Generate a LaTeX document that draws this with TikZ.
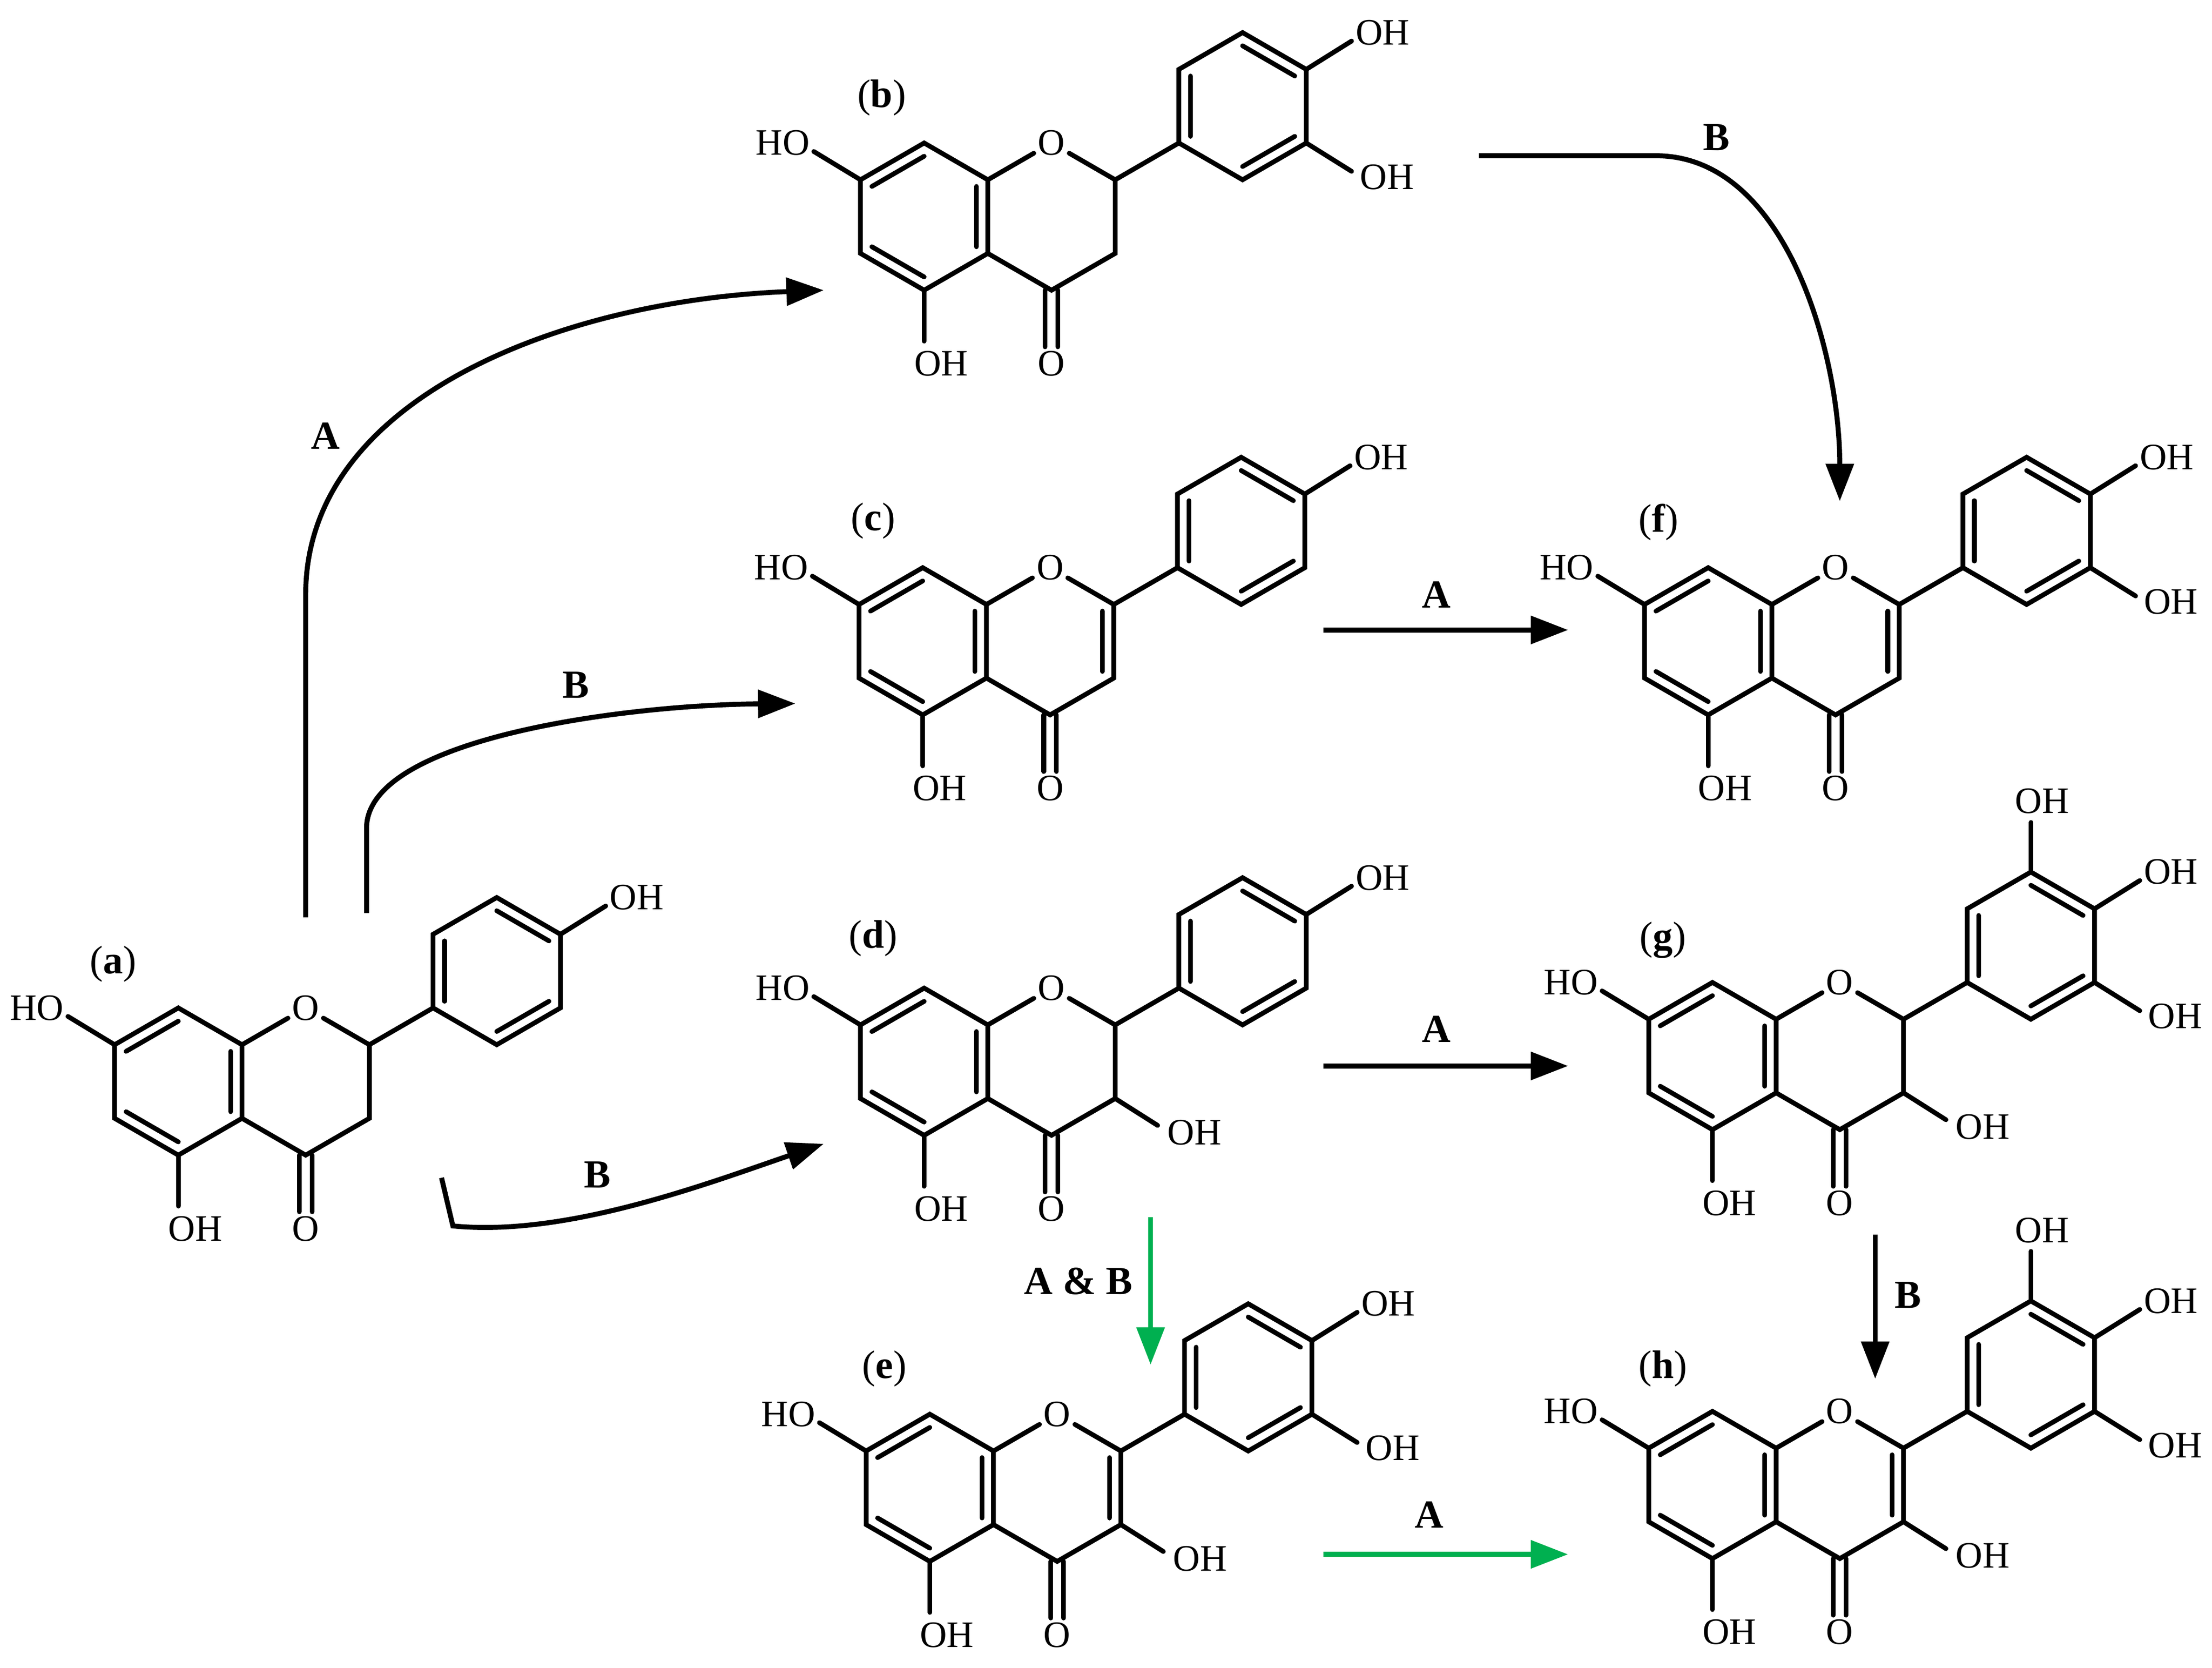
\documentclass[tikz,border=0pt]{standalone}
\usepackage{fontspec}
\setmainfont{Liberation Serif}
\usetikzlibrary{calc,arrows.meta}
\definecolor{arrgreen}{RGB}{0,176,80}
\tikzset{
 bond/.style={line width=1.9pt, line cap=round},
 atom/.style={inner sep=1.5pt, font=\fontsize{15}{15}\selectfont},
 lbl/.style={font=\fontsize{16}{16}\selectfont},
 rlbl/.style={font=\fontsize{16}{16}\selectfont\bfseries},
 rxn/.style={line width=2pt, -{Triangle[length=15pt,width=11pt]}},
}
\newcommand\inb[3]{\draw[bond] ($(#1)!0.18!(#3)$) -- ($(#2)!0.18!(#3)$);}
\newcommand\core[3]{%
\begin{scope}[shift={(#2,#3)}]
\coordinate (#1ca) at (0,0);
\coordinate (#1cc) at (90,0);
\coordinate (#1cb) at (225,-78);
\coordinate (#1a1) at (0,-52);
\coordinate (#1a2) at (45,-26);
\coordinate (#1a3) at (45,26);
\coordinate (#1a4) at (0,52);
\coordinate (#1a5) at (-45,26);
\coordinate (#1a6) at (-45,-26);
\coordinate (#1c2) at (135,-26);
\coordinate (#1c3) at (135,26);
\coordinate (#1c4) at (90,52);
\coordinate (#1b1) at (180,-52);
\coordinate (#1b2) at (180,-104);
\coordinate (#1b3) at (225,-130);
\coordinate (#1b4) at (270,-104);
\coordinate (#1b5) at (270,-52);
\coordinate (#1b6) at (225,-26);
\coordinate (#1e7) at (-78,-46);
\coordinate (#1e5) at (0,88);
\coordinate (#1e4p) at (302,-124);
\coordinate (#1e3p) at (302,-32);
\coordinate (#1e5p) at (225,-165);
\coordinate (#1e3c) at (165,45);
\coordinate (#1dA1) at (85.5,52);
\coordinate (#1dA2) at (85.5,92);
\coordinate (#1dB1) at (94.5,52);
\coordinate (#1dB2) at (94.5,92);
\node[atom] (#1O) at (90,-52) {O};
\node[atom] (#1HO7) at (-100,-52) {HO};
\node[atom] (#1OH5) at (12,104) {OH};
\node[atom] (#1O4) at (90,104) {O};
\end{scope}
\draw[bond] (#1a1)--(#1a2)--(#1a3)--(#1a4)--(#1a5)--(#1a6)--cycle;
\draw[bond] (#1a2)--(#1O)--(#1c2)--(#1c3)--(#1c4)--(#1a3);
\draw[bond] (#1c2)--(#1b1);
\draw[bond] (#1b1)--(#1b2)--(#1b3)--(#1b4)--(#1b5)--(#1b6)--cycle;
\inb{#1a6}{#1a1}{#1ca}\inb{#1a5}{#1a4}{#1ca}\inb{#1a2}{#1a3}{#1ca}
\inb{#1b1}{#1b2}{#1cb}\inb{#1b3}{#1b4}{#1cb}\inb{#1b5}{#1b6}{#1cb}
\draw[bond] (#1a6)--(#1e7);
\draw[bond] (#1a4)--(#1e5);
\draw[bond] (#1dA1)--(#1dA2);
\draw[bond] (#1dB1)--(#1dB2);
}
\newcommand\OHfour[1]{\node[atom] (#1OH4p) at ($(#1ca)+(324,-130)$) {OH};\draw[bond] (#1b4)--(#1e4p);}
\newcommand\OHthree[1]{\node[atom] (#1OH3p) at ($(#1ca)+(327,-28)$) {OH};\draw[bond] (#1b5)--(#1e3p);}
\newcommand\OHtop[1]{\node[atom] (#1OH5p) at ($(#1ca)+(233,-180)$) {OH};\draw[bond] (#1b3)--(#1e5p);}
\newcommand\OHc[1]{\node[atom] (#1OH3) at ($(#1ca)+(191,50)$) {OH};\draw[bond] (#1c3)--(#1e3c);}
\newcommand\ene[1]{\inb{#1c2}{#1c3}{#1cc}}
\begin{document}
\begin{tikzpicture}[x=0.02cm,y=-0.02cm]
\useasboundingbox (0,0) rectangle (1563,1178);
% molecules
\core{a}{126}{764}\OHfour{a}
\core{b}{653}{153}\OHfour{b}\OHthree{b}
\core{c}{652}{453}\OHfour{c}\ene{c}
\core{d}{653}{750}\OHfour{d}\OHc{d}
\core{e}{657}{1051}\OHfour{e}\OHthree{e}\ene{e}\OHc{e}
\core{f}{1207}{453}\OHfour{f}\OHthree{f}\ene{f}
\core{g}{1210}{746}\OHtop{g}\OHfour{g}\OHthree{g}\OHc{g}
\core{h}{1210}{1049}\OHtop{h}\OHfour{h}\OHthree{h}\ene{h}\OHc{h}
% labels
\node[lbl] (la) at (80,681) {(\textbf{a})};
\node[lbl] (lb) at (623,69) {(\textbf{b})};
\node[lbl] (lc) at (617,368) {(\textbf{c})};
\node[lbl] (ld) at (617,663) {(\textbf{d})};
\node[lbl] (le) at (625,967) {(\textbf{e})};
\node[lbl] (lf) at (1172,369) {(\textbf{f})};
\node[lbl] (lg) at (1175,664) {(\textbf{g})};
\node[lbl] (lh) at (1175,967) {(\textbf{h})};
% arrow end points
\coordinate (s1) at (216,648); \coordinate (t1) at (582,205);
\coordinate (s2) at (259,645); \coordinate (t2) at (562,497);
\coordinate (s3) at (312,832); \coordinate (t3) at (582,808);
\coordinate (s4) at (1045,110); \coordinate (t4) at (1300,354);
\coordinate (s5) at (935,445); \coordinate (t5) at (1108,445);
\coordinate (s6) at (935,753); \coordinate (t6) at (1108,753);
\coordinate (s7) at (813,860); \coordinate (t7) at (813,964);
\coordinate (s8) at (1325,872); \coordinate (t8) at (1325,974);
\coordinate (s9) at (935,1098); \coordinate (t9) at (1108,1098);
\draw[rxn] (s1) -- (216,420) .. controls (216,280) and (400,212) .. (t1);
\draw[rxn] (s2) -- (259,585) .. controls (259,522) and (440,498) .. (t2);
\draw[rxn] (s3) -- (320,866) .. controls (400,874) and (500,836) .. (t3);
\draw[rxn] (s4) -- (1170,110) .. controls (1262,110) and (1300,250) .. (t4);
\draw[rxn] (s5) -- (t5);
\draw[rxn] (s6) -- (t6);
\draw[rxn,arrgreen] (s7) -- (t7);
\draw[rxn] (s8) -- (t8);
\draw[rxn,arrgreen] (s9) -- (t9);
\node[rlbl] (r1) at (230,308) {A};
\node[rlbl] (r2) at (407,484) {B};
\node[rlbl] (r3) at (422,830) {B};
\node[rlbl] (r4) at (1213,97) {B};
\node[rlbl] (r5) at (1015,420) {A};
\node[rlbl] (r6) at (1015,727) {A};
\node[rlbl] (r7) at (762,905) {A \& B};
\node[rlbl] (r8) at (1348,915) {B};
\node[rlbl] (r9) at (1010,1070) {A};
\end{tikzpicture}
\end{document}
